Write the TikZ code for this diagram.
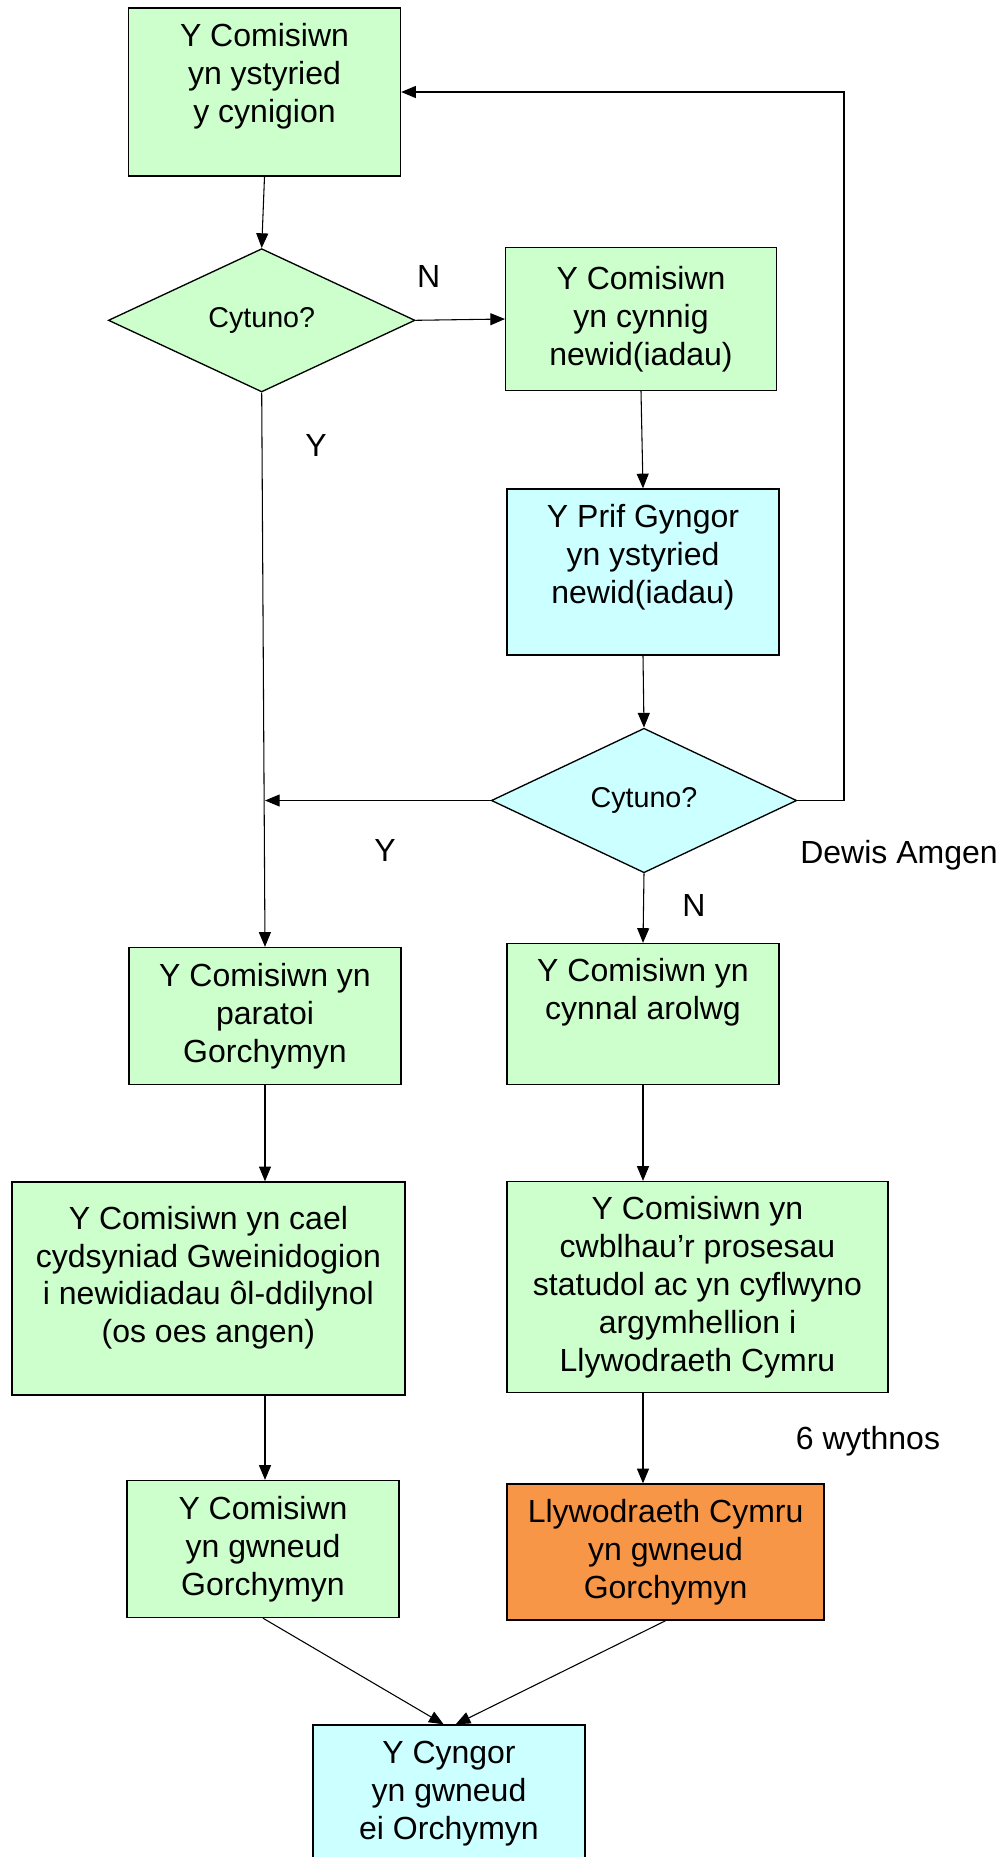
\documentclass[tikz,border=0pt]{standalone}
\usepackage{fontspec}
\setmainfont{Liberation Sans}
\usetikzlibrary{shapes.geometric,arrows.meta}

\tikzset{
  blwch/.style={draw, line width=1pt, minimum width=204pt, inner sep=0pt, align=center,
    font=\fontsize{24pt}{28.4pt}\selectfont},
  gwyrdd/.style={blwch, fill={rgb, 255:red, 204; green, 255; blue, 204 }},
  glas/.style={blwch, fill={rgb, 255:red, 204; green, 255; blue, 255 }},
  oren/.style={blwch, fill={rgb, 255:red, 247; green, 150; blue, 70 }},
  penderfyniad/.style={diamond, draw, line width=1pt, inner sep=0pt, minimum width=230pt, minimum height=107.5pt,
    font=\fontsize{21.5pt}{25pt}\selectfont},
  testun/.style={align=center, inner sep=0pt, font=\fontsize{24pt}{28.4pt}\selectfont},
  saeth/.style={line width=0.8pt, -{Triangle[length=11pt,width=9pt]}}
}

\begin{document}
\begin{tikzpicture}[x=0.75pt,y=0.75pt,yscale=-1,xscale=1]
\useasboundingbox (0,0) rectangle (1003,1857);

\node [gwyrdd, minimum height=126pt] (ystyried) at (264.5,92) {};
\node [testun] (ystyried-t) at ([yshift=-12pt]ystyried.center) {Y Comisiwn\\yn ystyried\\y cynigion};
\node [penderfyniad, fill={rgb, 255:red, 204; green, 255; blue, 204 }] (cytuno1) at (261.7,320.3) {Cytuno?};
\node [gwyrdd, minimum width=203pt, minimum height=107.25pt] (cynnig) at (641,319) {Y Comisiwn\\yn cynnig\\newid(iadau)};
\node [glas, minimum height=124.5pt] (prifgyngor) at (643,572) {};
\node [testun] (prifgyngor-t) at ([yshift=-11pt]prifgyngor.center) {Y Prif Gyngor\\yn ystyried\\newid(iadau)};
\node [penderfyniad, fill={rgb, 255:red, 204; green, 255; blue, 255 }, minimum width=229pt, minimum height=108.4pt] (cytuno2) at (644,800.5) {Cytuno?};

\node [gwyrdd, minimum height=102.75pt] (paratoi) at (265,1016) {Y Comisiwn yn\\paratoi\\Gorchymyn};
\node [gwyrdd, minimum height=105.75pt] (arolwg) at (643,1014) {};
\node [testun] (arolwg-t) at ([yshift=-16.5pt]arolwg.center) {Y Comisiwn yn\\cynnal arolwg};
\node [gwyrdd, minimum width=294.75pt, minimum height=159.75pt] (cydsyniad) at (208.4,1288.4) {};
\node [testun] (cydsyniad-t) at ([yshift=-8pt]cydsyniad.center) {Y Comisiwn yn cael\\cydsyniad Gweinidogion\\i newidiadau ôl-ddilynol\\(os oes angen)};
\node [gwyrdd, minimum width=285.75pt, minimum height=158.25pt] (cwblhau) at (697.5,1287) {Y Comisiwn yn\\cwblhau’r prosesau\\statudol ac yn cyflwyno\\argymhellion i\\Llywodraeth Cymru};
\node [gwyrdd, minimum height=102.75pt] (gwneud) at (263,1549) {Y Comisiwn\\yn gwneud\\Gorchymyn};
\node [oren, minimum width=237.75pt, minimum height=102pt] (llywodraeth) at (665.6,1552) {Llywodraeth Cymru\\yn gwneud\\Gorchymyn};
\node [glas, minimum height=102.75pt] (cyngor) at (449,1793.5) {Y Cyngor\\yn gwneud\\ei Orchymyn};

\node [testun] (n1) at (428.7,276) {N};
\node [testun] (y1) at (316,445) {Y};
\node [testun] (y2) at (385,850) {Y};
\node [testun] (dewis) at (899,855) {Dewis Amgen};
\node [testun] (n2) at (694,905) {N};
\node [testun] (wythnos) at (868,1441) {6 wythnos};

\coordinate (tro) at (844,92);

\draw [saeth] (ystyried.south) -- (cytuno1.north);
\draw [saeth] (cytuno1.east) -- (cynnig.west);
\draw [saeth] (cytuno1.south) -- (paratoi.north);
\draw [saeth] (cynnig.south) -- (prifgyngor.north);
\draw [saeth] (prifgyngor.south) -- (cytuno2.north);
\draw [saeth] (cytuno2.west) -- (cytuno2.west -| paratoi.north);
\draw [saeth] (cytuno2.east) -| (tro) -- (ystyried.east);
\draw [saeth] (cytuno2.south) -- (arolwg.north);
\draw [saeth] (paratoi.south) -- (paratoi.south |- cydsyniad.north);
\draw [saeth] (arolwg.south) -- (arolwg.south |- cwblhau.north);
\draw [saeth] (cydsyniad.south -| paratoi.south) -- (paratoi.south |- gwneud.north);
\draw [saeth] (cwblhau.south -| arolwg.south) -- (arolwg.south |- llywodraeth.north);
\draw [saeth] (gwneud.south) -- ([xshift=-4pt]cyngor.north);
\draw [saeth] (llywodraeth.south) -- ([xshift=5pt]cyngor.north);
\end{tikzpicture}
\end{document}
